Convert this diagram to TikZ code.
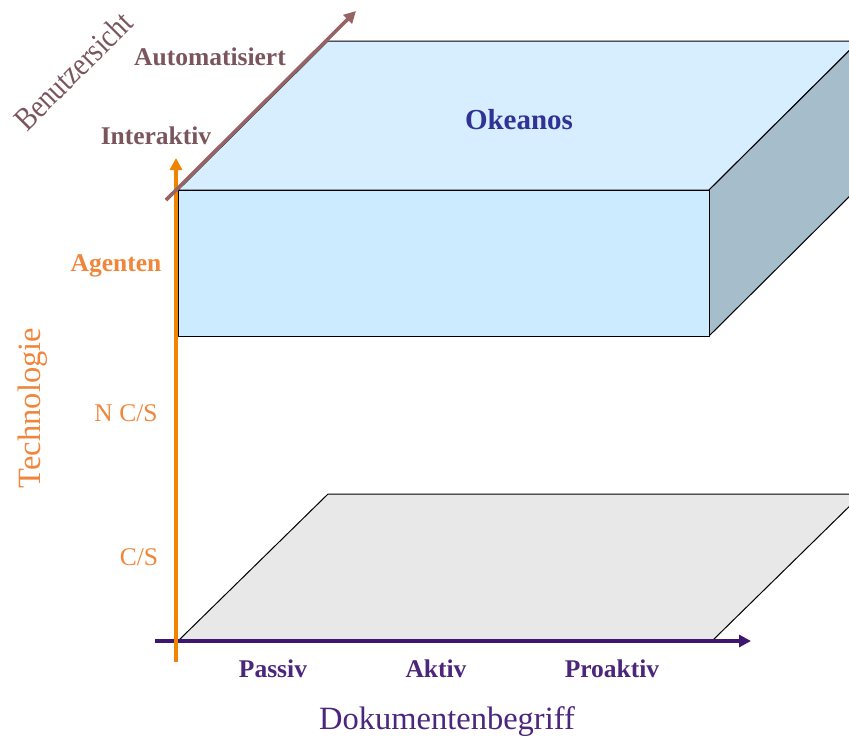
\documentclass[tikz,border=0pt]{standalone}
\usepackage{fontspec}
\setmainfont{Liberation Serif}
\usetikzlibrary{arrows.meta}
\definecolor{axisorange}{RGB}{240,131,0}
\definecolor{textorange}{RGB}{240,134,60}
\definecolor{axispurple}{RGB}{62,22,112}
\definecolor{textpurple}{RGB}{76,38,122}
\definecolor{axisbrown}{RGB}{150,100,100}
\definecolor{textbrown}{RGB}{122,86,92}
\definecolor{okeablue}{RGB}{50,50,150}
\definecolor{topface}{RGB}{214,238,255}
\definecolor{frontface}{RGB}{204,235,255}
\definecolor{sideface}{RGB}{166,189,204}
\definecolor{plane}{RGB}{232,232,232}
\tikzset{
  face/.style={draw=black, line width=1pt, line join=round},
  axis/.style={line width=3.6pt, -{Triangle[length=12pt,width=12pt]}},
  tick/.style={font=\fontsize{25.5}{30}\selectfont\bfseries, inner sep=0pt},
  ticklight/.style={font=\fontsize{25.5}{30}\selectfont, inner sep=0pt},
  axistitle/.style={font=\fontsize{32.5}{38}\selectfont, inner sep=0pt},
}
\begin{document}
\begin{tikzpicture}[x=1pt,y=-1pt]
\useasboundingbox (0,0) rectangle (849,740);
\clip (0,0) rectangle (849,740);

% floor plane (C/S level)
\filldraw[face, fill=plane] (178,641) -- (328,494) -- (862,494) -- (712,641) -- cycle;

% Okeanos block
\filldraw[face, fill=topface] (178,190) -- (328,41) -- (859,41) -- (709,190) -- cycle;
\filldraw[face, fill=sideface] (709,190) -- (859,41) -- (859,187) -- (709,336) -- cycle;
\filldraw[face, fill=frontface] (178,190) rectangle (709,336);

% axes
\coordinate (xs) at (155,641);
\coordinate (xe) at (751,641);
\coordinate (ys) at (176,662);
\coordinate (ye) at (176,158);
\coordinate (zs) at (166,200);
\coordinate (ze) at (356,11);
\draw[axis, axispurple] (xs) -- (xe);
\draw[axis, axisorange] (ys) -- (ye);
\draw[axis, axisbrown] (zs) -- (ze);

% labels
\node[tick, okeablue, font=\fontsize{29}{34}\selectfont\bfseries] (okeanos) at (519,120) {Okeanos};

\node[tick, textbrown] (auto) at (210,57) {Automatisiert};
\node[tick, textbrown] (inter) at (156,136) {Interaktiv};
\node[axistitle, textbrown, rotate=45] (benutzer) at (73,71) {\scalebox{0.85}[1]{Benutzersicht}};

\node[tick, textorange] (agenten) at (116,266) {Agenten};
\node[ticklight, textorange] (ncs) at (126,413) {N C/S};
\node[ticklight, textorange] (cs) at (139,557) {C/S};
\node[axistitle, textorange, rotate=90] (techno) at (33,408) {Technologie};

\node[tick, textpurple] (passiv) at (273,669) {Passiv};
\node[tick, textpurple] (aktiv) at (436,669) {Aktiv};
\node[tick, textpurple] (proaktiv) at (612,669) {Proaktiv};
\node[axistitle, textpurple] (doku) at (447,722) {Dokumentenbegriff};
\end{tikzpicture}
\end{document}
